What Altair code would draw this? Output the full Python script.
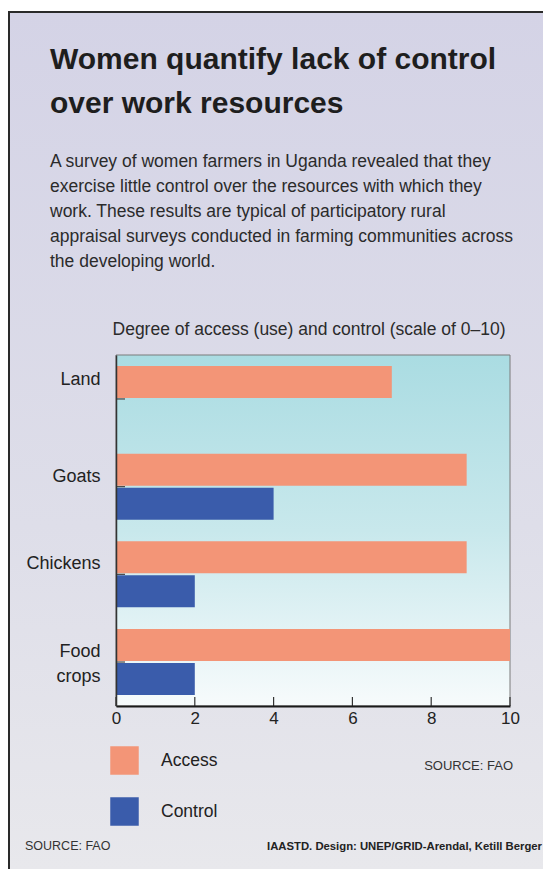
import altair as alt
import pandas as pd

# ---------------- data ----------------
categories = ["Land", "Goats", "Chickens", "Food crops"]
series = ["Access", "Control"]
access = [7, 8.9, 8.9, 10]
control = [0, 4, 2, 2]
x_ticks = [0, 2, 4, 6, 8, 10]

title_lines = ["Women quantify lack of control", "over work resources"]
subtitle_lines = [
    "A survey of women farmers in Uganda revealed that they",
    "exercise little control over the resources with which they",
    "work. These results are typical of participatory rural",
    "appraisal surveys conducted in farming communities across",
    "the developing world.",
]
axis_title = "Degree of access (use) and control (scale of 0\u201310)"
source_text = "SOURCE: FAO"
credit_text = "IAASTD. Design: UNEP/GRID-Arendal, Ketill Berger"

rows = []
for c, a, k in zip(categories, access, control):
    rows.append({"category": c, "series": series[0], "value": a})
    rows.append({"category": c, "series": series[1], "value": k})
df = pd.DataFrame(rows)

# ---------------- styling ----------------
W, H = 394, 351
SANS = "Liberation Sans, Arial, Helvetica, sans-serif"
one = pd.DataFrame({"k": [0]})


def grad(stops):
    return alt.LinearGradient(
        gradient="linear",
        stops=[alt.GradientStop(color=c, offset=o) for o, c in stops],
        x1=0, x2=0, y1=0, y2=1,
    )


def txt(lines, x, y, size, weight="normal", align="left", color="#222", lh=None):
    mk = dict(text=lines, align=align, baseline="alphabetic", font=SANS,
              fontSize=size, fontWeight=weight, color=color)
    if lh:
        mk["lineHeight"] = lh
    return alt.Chart(one).mark_text(**mk).encode(x=alt.value(x), y=alt.value(y))


# page background panel (lavender) and its border
panel = alt.Chart(one).mark_rect(
    color=grad([(0, "#D4D3E6"), (0.6, "#DEDEE9"), (1, "#E8E8EC")])
).encode(x=alt.value(-108), x2=alt.value(427), y=alt.value(-343), y2=alt.value(514))
border_left = alt.Chart(one).mark_rule(color="#2a2a2a", strokeWidth=2).encode(
    x=alt.value(-107), y=alt.value(-344), y2=alt.value(514))
border_top = alt.Chart(one).mark_rule(color="#2a2a2a", strokeWidth=2).encode(
    y=alt.value(-343), x=alt.value(-108), x2=alt.value(427))

# plot-area gradient
plot_bg = alt.Chart(one).mark_rect(
    color=grad([(0, "#AADCE2"), (0.5, "#C8E8EC"), (1, "#F7FBFC")]),
    stroke="#7a7a7a", strokeWidth=1,
).encode(x=alt.value(0), x2=alt.value(W), y=alt.value(0), y2=alt.value(H))

label_expr = "datum.label == 'Food crops' ? ['Food', 'crops'] : datum.label"

y_axis = alt.Axis(
    domainColor="#333", domainWidth=1.5, ticks=False, grid=False,
    labelFont=SANS, labelFontSize=18, labelColor="#222",
    labelPadding=16, labelLineHeight=25, labelOffset=-10,
    labelBaseline={"condition": {"test": "datum.label == 'Land'", "value": "bottom"},
                   "value": "middle"},
    labelExpr=label_expr, zindex=1,
)
x_axis = alt.Axis(
    values=x_ticks, domainColor="#1a1a1a", domainWidth=2, ticks=False,
    grid=False, labelFont=SANS, labelFontSize=17, labelColor="#222",
    labelPadding=4, labelFlush=False, zindex=1,
)
y_scale = alt.Scale(paddingInner=0.247, paddingOuter=0.125)
x_scale = alt.Scale(domain=[0, 10], nice=False)

bars = alt.Chart(df).mark_bar().encode(
    y=alt.Y("category:N", sort=categories, title=None, scale=y_scale, axis=y_axis),
    yOffset=alt.YOffset("series:N", sort=series,
                        scale=alt.Scale(paddingInner=0.06, paddingOuter=0)),
    x=alt.X("value:Q", title=None, scale=x_scale, axis=x_axis),
    color=alt.Color(
        "series:N", sort=series, title=None,
        scale=alt.Scale(domain=series, range=["#F39577", "#3A5CAB"]),
        legend=alt.Legend(
            orient="none", legendX=-6, legendY=391, direction="vertical",
            symbolType="square", symbolSize=812, symbolStrokeWidth=0,
            labelFont=SANS, labelFontSize=17.5, labelColor="#222",
            rowPadding=22, labelOffset=22, padding=0,
        ),
    ),
)

# inward tick marks
x_tick_marks = alt.Chart(pd.DataFrame({"value": x_ticks})).mark_rule(
    color="#333", strokeWidth=1.2
).encode(x=alt.X("value:Q", title=None, scale=x_scale, axis=x_axis),
         y=alt.value(H - 9), y2=alt.value(H))

y_tick_marks = alt.Chart(pd.DataFrame({"category": categories})).mark_rule(
    color="#444", strokeWidth=1.2
).encode(y=alt.Y("category:N", sort=categories, title=None, scale=y_scale, axis=y_axis),
         x=alt.value(0), x2=alt.value(9))

texts = [
    txt(title_lines, -66, -286, 30, weight="bold", color="#1e1e1e", lh=44),
    txt(subtitle_lines, -66, -188, 17.5, color="#2b2b2b", lh=25),
    txt([axis_title], 193, -20, 17.5, align="center", color="#2b2b2b"),
    txt([source_text], 397, 415, 13, align="right", color="#333"),
    txt([source_text], -91, 495, 12.5, color="#333"),
    txt([credit_text], 426, 495, 11.3, weight="bold", align="right", color="#222"),
]

chart = alt.layer(
    panel, border_left, border_top, plot_bg, bars, x_tick_marks, y_tick_marks, *texts
).properties(
    width=W, height=H,
    autosize=alt.AutoSizeParams(type="none"),
    padding={"left": 108, "top": 347, "right": 33, "bottom": 163},
    background="white",
).configure_view(stroke=None)

chart.save("out.html", embed_options={"renderer": "svg", "actions": False})
